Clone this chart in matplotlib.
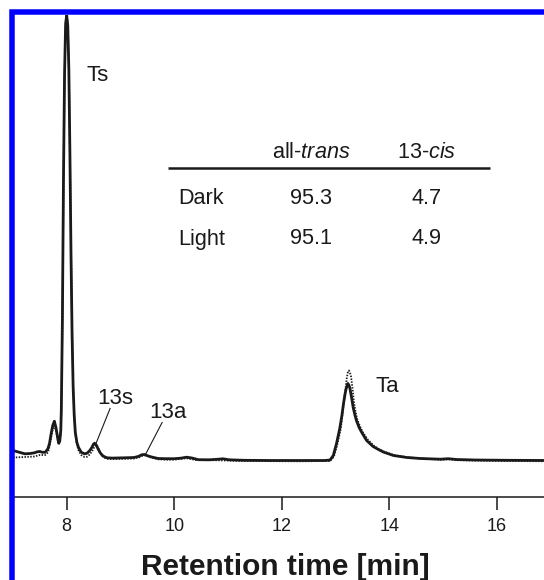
import matplotlib
matplotlib.use("Agg")
import matplotlib.pyplot as plt
from matplotlib.patches import Rectangle

plt.rcParams["font.family"] = ["Liberation Sans", "DejaVu Sans"]
plt.rcParams["mathtext.fontset"] = "custom"
plt.rcParams["mathtext.rm"] = "Liberation Sans"
plt.rcParams["mathtext.it"] = "Liberation Sans:italic"

INK = "#1a1a1a"

# HPLC trace, dark-adapted sample (retention time in min, detector signal)
dark_time = [7.00, 7.10, 7.22, 7.32, 7.40, 7.46, 7.50, 7.55, 7.60, 7.65, 7.68, 7.71,
             7.74, 7.77, 7.80, 7.82, 7.85, 7.87, 7.89, 7.90, 7.92, 7.94, 7.96, 7.98,
             8.00, 8.02, 8.04, 8.06, 8.08, 8.10, 8.12, 8.14, 8.16, 8.19, 8.22, 8.27,
             8.33, 8.38, 8.43, 8.47, 8.50, 8.52, 8.55, 8.58, 8.62, 8.66, 8.70, 8.75,
             8.85, 9.00, 9.15, 9.25, 9.33, 9.40, 9.45, 9.50, 9.58, 9.70, 9.85, 10.00,
             10.12, 10.23, 10.33, 10.45, 10.65, 10.80, 10.91, 11.02, 11.30, 11.80, 12.30,
             12.80, 12.90, 12.96, 13.02, 13.08, 13.12, 13.15, 13.18, 13.20, 13.23, 13.25,
             13.27, 13.30, 13.33, 13.36, 13.39, 13.44, 13.49, 13.58, 13.70, 13.80, 13.89,
             14.08, 14.33, 14.58, 14.95, 15.10, 15.25, 15.60, 16.20, 17.00]
dark_signal = [9.0, 7.5, 5.7, 6.0, 6.7, 7.8, 8.0, 7.2, 7.2, 10.7, 16.0, 25.7,
               34.0, 38.3, 32.0, 25.7, 16.3, 18.0, 29.0, 50.0, 140.0, 280.0, 385.0, 436.0,
               444.0, 434.0, 390.0, 305.0, 205.0, 125.0, 72.0, 44.0, 27.0, 17.0, 12.0, 7.3,
               5.7, 6.3, 9.0, 12.3, 15.5, 16.3, 14.5, 11.0, 7.0, 4.3, 2.8, 1.7,
               1.4, 1.6, 1.8, 2.0, 3.0, 4.8, 5.0, 3.8, 2.5, 1.0, 0.8, 0.8,
               1.3, 2.3, 1.5, -0.2, -0.3, 0.2, 0.7, -0.3, -0.8, -1.0, -1.0,
               -1.0, -0.5, 4.0, 16.0, 31.0, 44.0, 56.0, 66.0, 71.0, 76.0, 74.5,
               71.0, 62.0, 52.0, 45.0, 39.0, 32.0, 27.0, 19.0, 13.0, 10.0, 7.5,
               4.0, 2.0, 1.0, 0.3, 0.8, 0.0, -0.5, -0.8, -1.0]

# HPLC trace, light-adapted sample
light_time = [7.00, 7.10, 7.22, 7.40, 7.50, 7.60, 7.65, 7.68, 7.71, 7.74, 7.77, 7.80,
              7.82, 7.85, 7.87, 7.89, 7.90, 7.92, 7.94, 7.96, 7.98, 8.00, 8.02, 8.04,
              8.06, 8.08, 8.10, 8.12, 8.14, 8.16, 8.19, 8.22, 8.27, 8.33, 8.38, 8.43,
              8.48, 8.52, 8.55, 8.58, 8.62, 8.66, 8.70, 8.75, 8.85, 9.00, 9.15, 9.25,
              9.35, 9.43, 9.48, 9.55, 9.70, 9.85, 10.00, 10.23, 10.40, 10.80, 11.30, 12.30,
              12.90, 12.97, 13.03, 13.10, 13.13, 13.16, 13.19, 13.21, 13.23, 13.25, 13.27,
              13.29, 13.32, 13.34, 13.37, 13.40, 13.45, 13.50, 13.60, 13.72, 13.81, 13.90,
              14.09, 14.34, 14.59, 14.95, 15.10, 15.30, 16.20, 17.00]
light_signal = [2.0, 2.2, 2.5, 3.0, 4.5, 4.5, 7.0, 13.0, 22.0, 30.0, 34.0, 29.0,
                23.0, 15.0, 17.0, 27.0, 48.0, 135.0, 270.0, 378.0, 432.0, 444.0, 436.0, 395.0,
                312.0, 212.0, 130.0, 75.0, 45.0, 27.0, 15.0, 9.0, 4.5, 2.5, 2.8, 5.0,
                9.0, 13.0, 14.7, 12.5, 7.0, 3.5, 1.8, 0.7, 0.4, 0.6, 0.8, 1.0,
                2.2, 4.2, 4.0, 2.3, 0.2, -0.2, -0.2, 1.3, -0.5, -0.8, -1.5, -1.8,
                -1.5, 2.7, 14.0, 31.0, 45.0, 59.0, 72.0, 81.0, 87.0, 89.0, 87.0,
                83.0, 70.0, 59.0, 49.0, 41.0, 34.0, 28.0, 20.0, 13.5, 10.3, 8.0,
                4.3, 2.3, 1.0, -0.3, 0.2, -0.8, -1.5, -1.8]

x_ticks = [8, 10, 12, 14, 16]

# isomer composition (%)
table_rows = ["Dark", "Light"]
table_cols = ["all-$\\mathit{trans}$", "13-$\\mathit{cis}$"]
all_trans_pct = [95.3, 95.1]
cis13_pct = [4.7, 4.9]

W, H = 544, 580
fig = plt.figure(figsize=(W / 100, H / 100), dpi=100)
ax = fig.add_axes([12.95 / W, (H - 497) / H, 537.5 / W, 482 / H])

ax.plot(light_time, light_signal, color=INK, lw=1.3, linestyle=(0, (0.8, 0.8)),
        solid_capstyle="butt", zorder=2)
ax.plot(dark_time, dark_signal, color=INK, lw=2.0, solid_joinstyle="round", zorder=3)

ax.set_xlim(7.0, 17.0)
ax.set_ylim(-37.5, 444.5)
for side in ("left", "top", "right"):
    ax.spines[side].set_visible(False)
ax.spines["bottom"].set_linewidth(1.1)
ax.spines["bottom"].set_color(INK)
ax.set_yticks([])
ax.set_xticks(x_ticks)
ax.set_xticklabels([str(t) for t in x_ticks])
ax.tick_params(axis="x", direction="out", length=9, width=1.1, color=INK,
               pad=6.0, labelsize=13, labelcolor=INK)

# peak labels
lab = dict(fontsize=16, color=INK, va="baseline", ha="left")
ax.text(8.36, 378.5, "Ts", **lab)
ax.text(8.577, 56, "13s", **lab)
ax.text(9.535, 42, "13a", **lab)
ax.text(13.74, 67, "Ta", **lab)
ax.plot([8.807, 8.545], [51, 16], color=INK, lw=0.8)
ax.plot([9.775, 9.475], [37, 6], color=INK, lw=0.8)

# composition table
col_x = [12.55, 14.69]
row_y = [255, 215]
tab = dict(fontsize=15.6, color=INK, va="baseline")
for cx, name in zip(col_x, table_cols):
    ax.text(cx, 302, name, ha="center", **tab)
ax.plot([9.884, 15.875], [291.3, 291.3], color=INK, lw=1.8, solid_capstyle="butt")
for ry, name, a, c in zip(row_y, table_rows, all_trans_pct, cis13_pct):
    ax.text(10.071, ry, name, ha="left", **tab)
    ax.text(col_x[0], ry, f"{a:.1f}", ha="center", **tab)
    ax.text(col_x[1], ry, f"{c:.1f}", ha="center", **tab)

fig.text(285.5 / W, 5.0 / H, "Retention time [min]", ha="center", va="baseline",
         fontsize=21.5, fontweight="bold", color=INK)

# blue panel frame
frame = Rectangle((12.25 / W, -1.0), 2.0, 1.0 + (H - 12.25) / H,
                  transform=fig.transFigure, fill=False, edgecolor="#0000ff",
                  linewidth=5.5 * 72 / 100, zorder=10, clip_on=False)
fig.patches.append(frame)

fig.savefig("out.png", dpi=100)
